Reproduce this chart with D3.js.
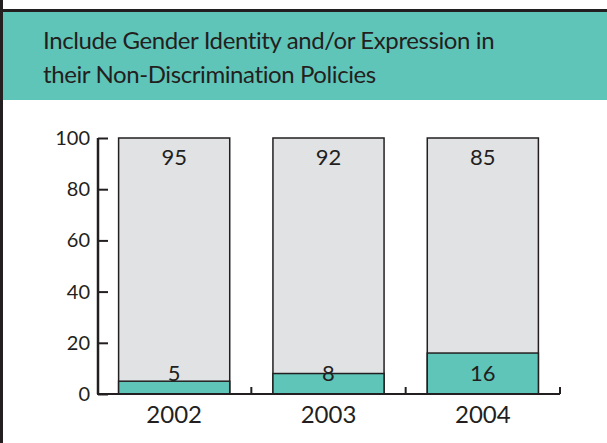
<!DOCTYPE html>
<html>
<head>
<meta charset="utf-8">
<script src="https://cdn.jsdelivr.net/npm/d3@7"></script>
<style>
  body { margin: 0; background: #fff; }
  svg { display: block; }
</style>
</head>
<body>
<svg id="chart"></svg>
<script>
// data
const years = ["2002", "2003", "2004"];
const includeValues = [5, 8, 16];
const remainderValues = [95, 92, 85];
const yTicks = [0, 20, 40, 60, 80, 100];
const titleLines = ["Include Gender Identity and/or Expression in", "their Non-Discrimination Policies"];

const W = 607, H = 443;
const teal = "#5fc5b9", grey = "#e1e2e4", ink = "#231f20";
const font = "Lato, 'DejaVu Sans', sans-serif";

const svg = d3.select("#chart").attr("width", W).attr("height", H);

// header band
svg.append("rect").attr("x", 0).attr("y", 11).attr("width", W).attr("height", 89).attr("fill", teal);
svg.append("rect").attr("x", 0).attr("y", 9).attr("width", W).attr("height", 3).attr("fill", ink);
svg.append("rect").attr("x", 0).attr("y", 0).attr("width", 3).attr("height", H).attr("fill", ink);

svg.append("g").selectAll("text")
  .data(titleLines)
  .join("text")
  .attr("x", 43)
  .attr("y", (d, i) => 49 + i * 34)
  .attr("fill", ink)
  .style("font-family", font)
  .style("font-size", "24px")
  .style("letter-spacing", "-0.4px")
  .text(d => d);

// scales
const x = d3.scaleBand()
  .domain(years)
  .range([97, 560])
  .paddingInner(0.28)
  .paddingOuter(0.14);

const y = d3.scaleLinear().domain([0, 100]).range([394, 138]);

// bars - grey full then teal portion
const bars = svg.append("g");
years.forEach((yr, i) => {
  bars.append("rect")
    .attr("x", x(yr))
    .attr("y", y(Math.min(100, includeValues[i] + remainderValues[i])))
    .attr("width", x.bandwidth())
    .attr("height", y(0) - y(100))
    .attr("fill", grey)
    .attr("stroke", ink)
    .attr("stroke-width", 1.5);
  bars.append("rect")
    .attr("x", x(yr))
    .attr("y", y(includeValues[i]))
    .attr("width", x.bandwidth())
    .attr("height", y(0) - y(includeValues[i]))
    .attr("fill", teal)
    .attr("stroke", ink)
    .attr("stroke-width", 1.5);
});

// value labels
svg.append("g").selectAll("text")
  .data(years)
  .join("text")
  .attr("x", d => x(d) + x.bandwidth() / 2)
  .attr("y", y(100) + 27)
  .attr("text-anchor", "middle")
  .attr("fill", ink)
  .style("font-family", font)
  .style("font-size", "22px")
  .text((d, i) => remainderValues[i]);

svg.append("g").selectAll("text")
  .data(years)
  .join("text")
  .attr("x", d => x(d) + x.bandwidth() / 2)
  .attr("y", y(0) - 13)
  .attr("text-anchor", "middle")
  .attr("fill", ink)
  .style("font-family", font)
  .style("font-size", "22px")
  .text((d, i) => includeValues[i]);

// y axis
const yAxis = svg.append("g")
  .attr("transform", "translate(98,0)")
  .call(d3.axisRight(y).tickValues(yTicks).tickSize(10).tickFormat(""));
yAxis.select(".domain").attr("stroke", ink).attr("stroke-width", 2.5).attr("d", `M0,${y(0)}V${y(100)}`);
yAxis.selectAll(".tick line").attr("stroke", ink).attr("stroke-width", 2);

svg.append("g").selectAll("text")
  .data(yTicks)
  .join("text")
  .attr("x", 90)
  .attr("y", d => y(d) + 7)
  .attr("text-anchor", "end")
  .attr("fill", ink)
  .style("font-family", font)
  .style("font-size", "20px")
  .text(d => d);

// x axis
const step = x.step();
const xg = svg.append("g");
xg.append("line")
  .attr("x1", 97).attr("x2", 560)
  .attr("y1", y(0)).attr("y2", y(0))
  .attr("stroke", ink).attr("stroke-width", 2);
xg.selectAll("line.tk")
  .data(years)
  .join("line")
  .attr("class", "tk")
  .attr("x1", d => x(d) + x.bandwidth() + (step - x.bandwidth()) / 2)
  .attr("x2", d => x(d) + x.bandwidth() + (step - x.bandwidth()) / 2)
  .attr("y1", y(0))
  .attr("y2", y(0) - 7)
  .attr("stroke", ink).attr("stroke-width", 2);

xg.selectAll("text")
  .data(years)
  .join("text")
  .attr("x", d => x(d) + x.bandwidth() / 2)
  .attr("y", 423)
  .attr("text-anchor", "middle")
  .attr("fill", ink)
  .style("font-family", font)
  .style("font-size", "24px")
  .text(d => d);
</script>
</body>
</html>
